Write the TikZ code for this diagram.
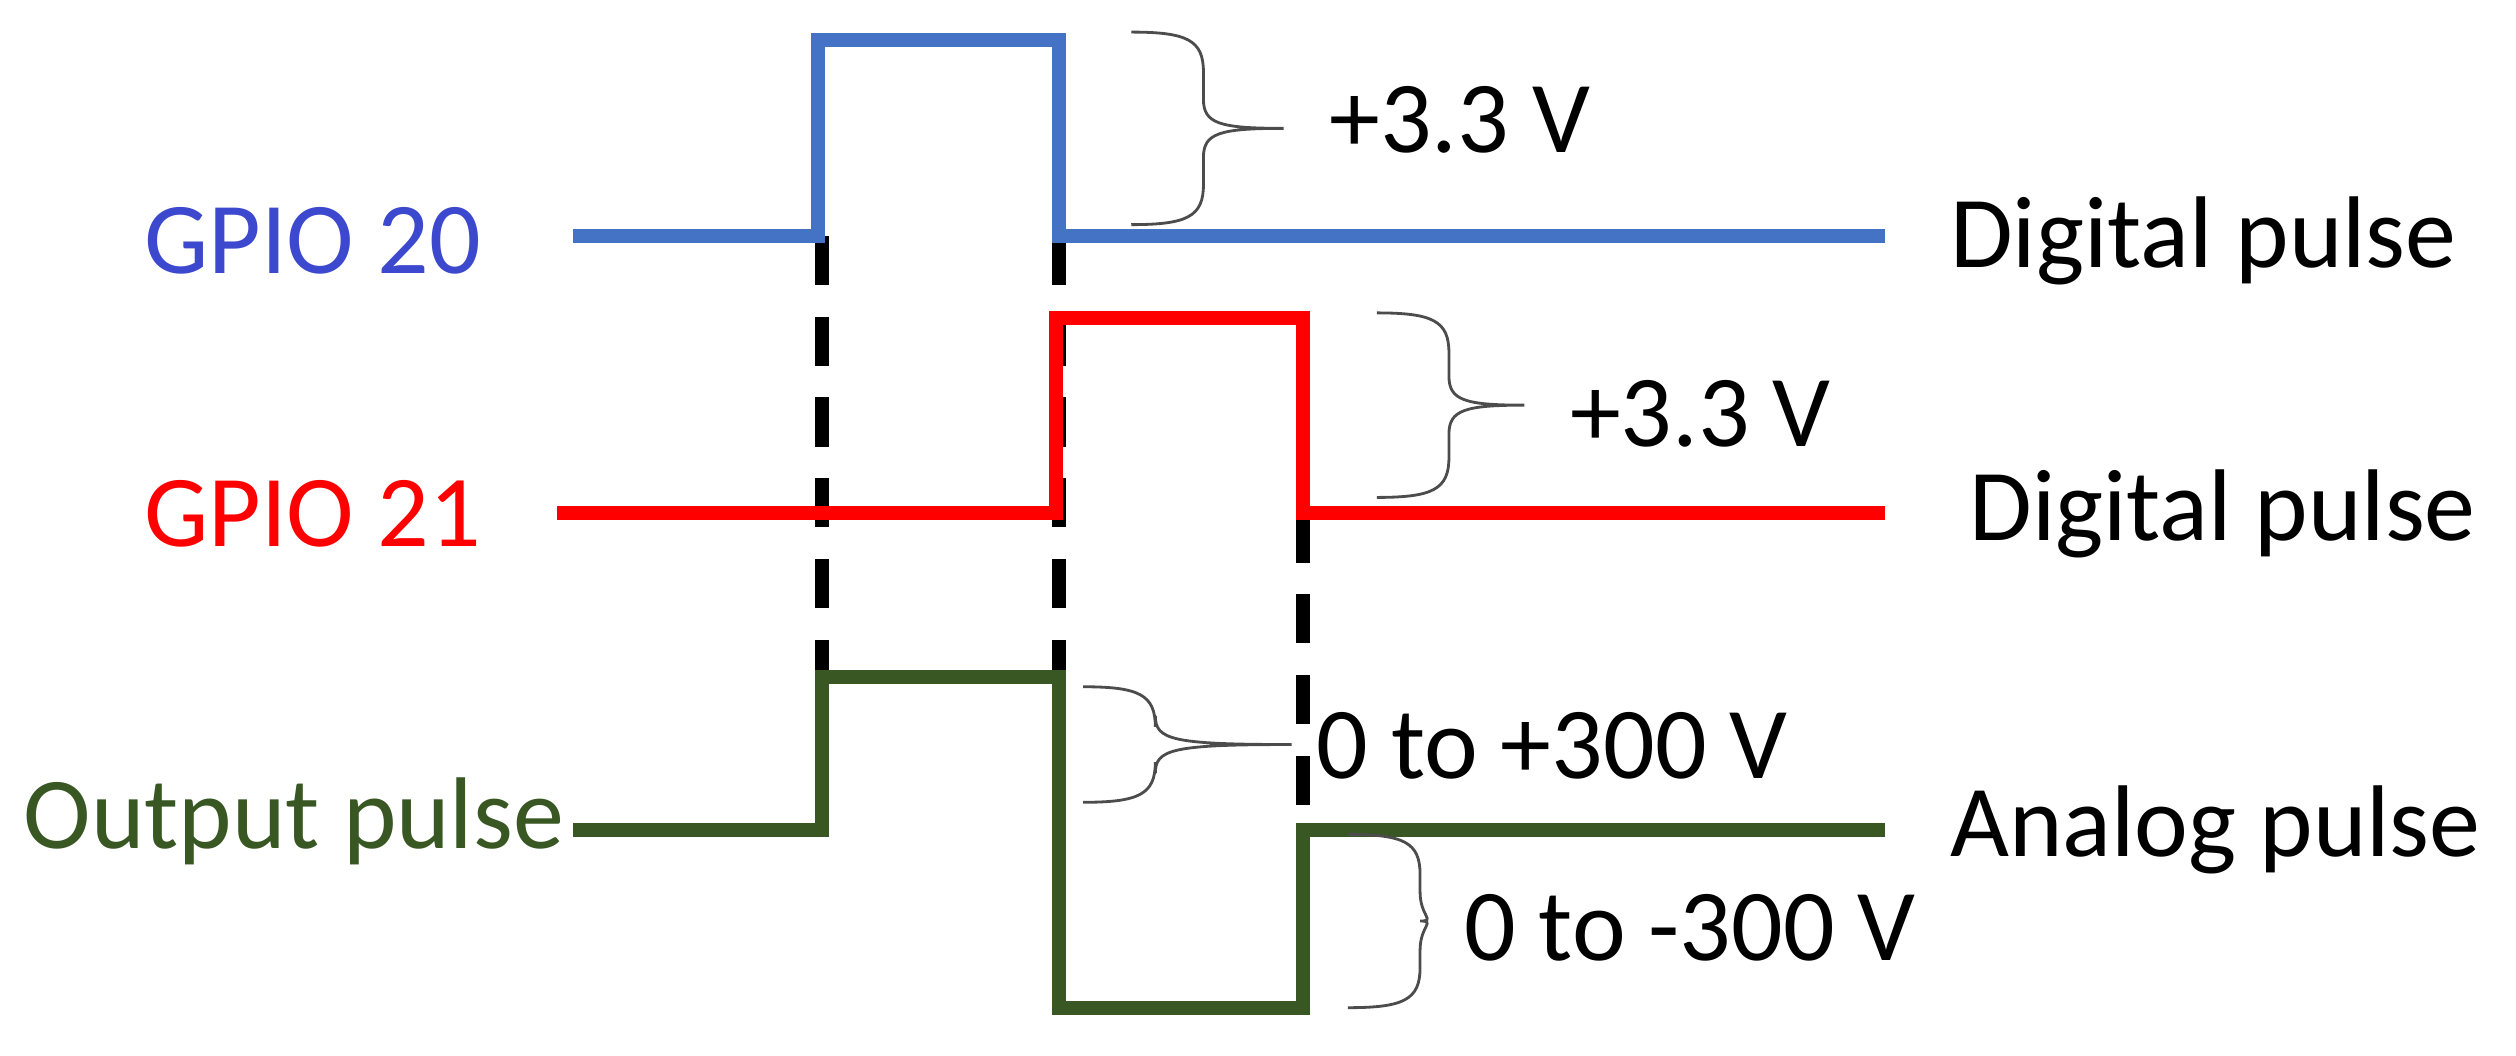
\documentclass[tikz,border=0pt]{standalone}
\usepackage{fontspec}
\setmainfont{Carlito}
\definecolor{gpioblue}{RGB}{68,114,196}
\definecolor{gpiotext}{RGB}{60,72,205}
\definecolor{gpiored}{RGB}{255,0,0}
\definecolor{outgreen}{RGB}{56,87,35}
\tikzset{
  wave/.style={line width=4pt},
  sync/.style={line width=4pt, dash pattern=on 14pt off 9pt},
  lbl/.style={font=\fontsize{29}{34}\selectfont, inner sep=0pt},
  brc/.style={gray!60!black, line width=0.8pt}
}
% curly brace: left x, top y, bottom y, tip x
\newcommand{\ampbrace}[4]{%
  \pgfmathsetmacro{\bw}{#1+45}%
  \pgfmathsetmacro{\bm}{(#2+#3)/2}%
  \draw[brc] (#1,#2) .. controls (#1+35,#2) and (\bw,#2+5) .. (\bw,#2+25)
    -- (\bw,\bm-18) .. controls (\bw,\bm-3) and (\bw+10,\bm) .. (#4,\bm)
    .. controls (\bw+10,\bm) and (\bw,\bm+3) .. (\bw,\bm+18)
    -- (\bw,#3-25) .. controls (\bw,#3-5) and (#1+35,#3) .. (#1,#3);}
\begin{document}
\begin{tikzpicture}[x=0.01605cm, y=-0.01605cm]
    \useasboundingbox (0,0) rectangle (1568,658);

    % timing marks
    \draw[sync] (512,147) -- (512,422);
    \draw[sync] (660,147) -- (660,422);
    \draw[sync] (812,320) -- (812,517);

    % waveforms
    \draw[wave, gpioblue] (357,147) -- (510,147) -- (510,25) -- (660,25) -- (660,147) -- (1175,147);
    \draw[wave, gpiored] (347,320) -- (658,320) -- (658,198) -- (812,198) -- (812,320) -- (1175,320);
    \draw[wave, outgreen] (357,517) -- (512,517) -- (512,422) -- (660,422) -- (660,628) -- (812,628) -- (812,517) -- (1175,517);

    % labels
    \node[lbl, gpiotext, anchor=east] (g20) at (300,150) {GPIO 20};
    \node[lbl, gpiored, anchor=east] (g21) at (300,320) {GPIO 21};
    \node[lbl, outgreen, anchor=east] (out) at (352,512) {Output pulse};
    \node[lbl, anchor=west] (d20) at (1215,150) {Digital pulse};
    \node[lbl, anchor=west] (d21) at (1227,320) {Digital pulse};
    \node[lbl, anchor=west] (ana) at (1215,517) {Analog pulse};

    % amplitudes
    \ampbrace{705}{20}{140}{800}
    \node[lbl, anchor=west] (v20) at (828,75) {+3.3 V};
    \ampbrace{858}{195}{310}{950}
    \node[lbl, anchor=west] (v21) at (978,258) {+3.3 V};
    \ampbrace{675}{428}{500}{805}
    \node[lbl, anchor=west] (vpos) at (820,465) {0 to +300 V};
    \ampbrace{840}{520}{628}{885}
    \node[lbl, anchor=west] (vneg) at (912,578) {0 to -300 V};
\end{tikzpicture}
\end{document}
